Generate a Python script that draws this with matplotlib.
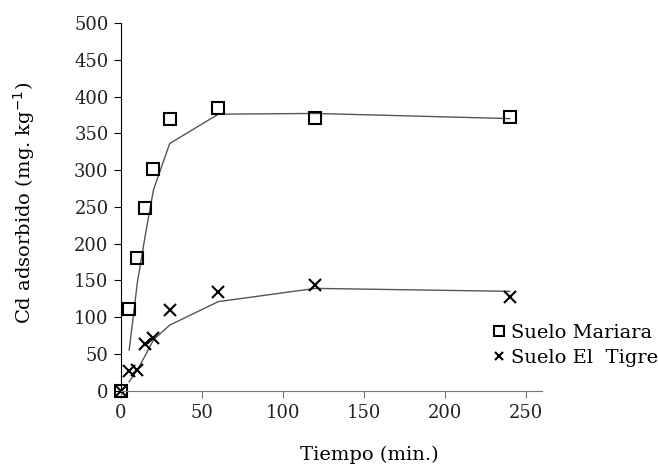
import matplotlib.pyplot as plt
import numpy as np

# measured points
t = [0, 5, 10, 15, 20, 30, 60, 120, 240]
mariara = [0, 111, 181, 248, 302, 369, 384, 371, 372]
tigre = [0, 27, 28, 64, 71, 110, 134, 144, 127]

# fitted curves
t_fit = [5, 10, 15, 20, 30, 60, 120, 240]
mariara_fit = [55, 146, 212, 273, 336, 376, 377, 370]
tigre_fit = [12, 28, 48, 69, 89, 121, 139, 135]

plt.rcParams['font.family'] = ['DejaVu Serif']

fig = plt.figure(figsize=(6.58, 4.70), dpi=100)
ax = fig.add_axes([0.184, 0.169, 0.640, 0.782])

ax.plot(t_fit, mariara_fit, color='#555555', lw=1.0)
ax.plot(t_fit, tigre_fit, color='#555555', lw=1.0)
ax.plot(t, mariara, ls='none', marker='s', ms=9, mfc='none', mec='black',
        mew=1.5, label='Suelo Mariara', clip_on=False)
ax.plot(t, tigre, ls='none', marker='x', ms=8, color='black',
        mew=1.5, label='Suelo El  Tigre', clip_on=False)

ax.set_xlim(0, 260)
ax.set_ylim(0, 500)
ax.set_xticks(np.arange(0, 251, 50))
ax.set_yticks(np.arange(0, 501, 50))
ax.spines['top'].set_visible(False)
ax.spines['right'].set_visible(False)
ax.spines['bottom'].set_color('#777777')
ax.tick_params(labelsize=13, length=5, colors='black', labelcolor='#222222')
ax.tick_params(axis='x', color='#777777', pad=5)
ax.tick_params(axis='y', pad=4)

ax.set_xlabel('Tiempo (min.)', fontsize=14)
ax.xaxis.set_label_coords(0.589, -0.150)
ax.set_ylabel('Cd adsorbido (mg. kg$^{-1}$)', fontsize=14)
ax.yaxis.set_label_coords(-0.20, 0.51)

fig.legend(loc='upper left', bbox_to_anchor=(482 / 658, 1 - 314 / 470),
           frameon=False, fontsize=14, handlelength=0.7, handletextpad=0.3,
           labelspacing=0.35, markerscale=0.75, borderpad=0)

fig.savefig('out.png', dpi=100)
